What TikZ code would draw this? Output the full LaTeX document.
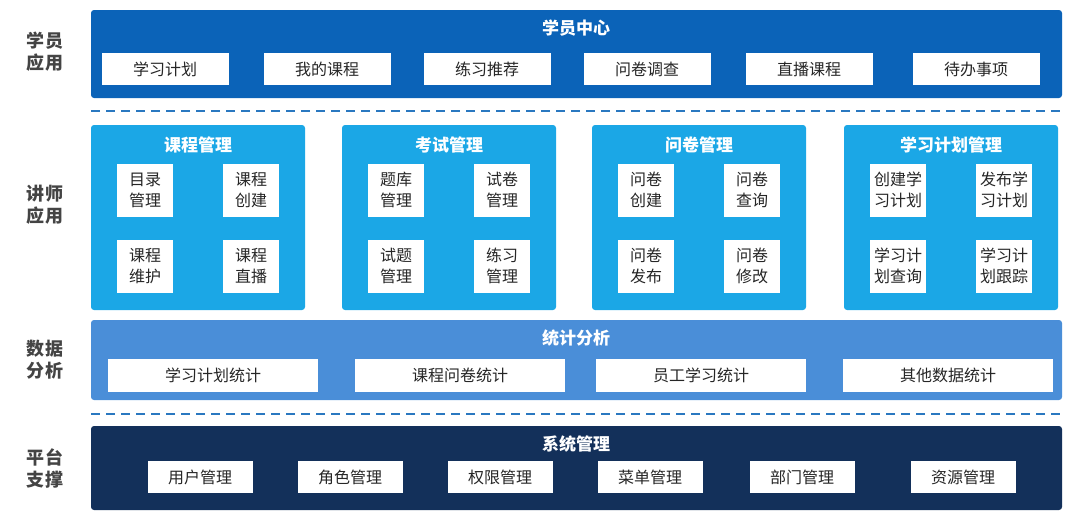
\documentclass[tikz,border=0pt]{standalone}
\usepackage{fontspec}
\setmainfont{Noto Sans CJK SC}
\definecolor{topc}{HTML}{0B63B8}
\definecolor{midc}{HTML}{1BA7E6}
\definecolor{statc}{HTML}{4A8ED8}
\definecolor{botc}{HTML}{13305A}
\definecolor{dashc}{HTML}{2A78C0}
\definecolor{lab}{HTML}{444444}
\tikzset{
 band/.style={rounded corners=3pt,inner sep=0pt},
 wbox/.style={fill=white,inner sep=0pt,font=\fontsize{16}{18}\selectfont,text=black!85},
 sbox/.style={wbox,align=center,minimum width=56pt,minimum height=53pt,font=\fontsize{16}{21}\selectfont},
 title/.style={text=white,font=\fontsize{17}{18}\selectfont\bfseries},
 lbl/.style={text=lab,font=\fontsize{18}{22}\selectfont\bfseries,align=center},
 sep/.style={dashc,line width=2pt,dash pattern=on 9pt off 6pt}
}
\begin{document}
\begin{tikzpicture}[x=1pt,y=-1pt]
\useasboundingbox (0,0) rectangle (1070,522);
% labels
\node[lbl] (l1) at (45,52) {学员\\应用};
\node[lbl] (l2) at (45,205) {讲师\\应用};
\node[lbl] (l3) at (45,360) {数据\\分析};
\node[lbl] (l4) at (45,468) {平台\\支撑};
% top band
\fill[topc,band] (91,10) rectangle (1062,98);
\node[title] (t1) at (576,28) {学员中心};
\foreach \x/\t [count=\i] in {165/学习计划,327/我的课程,487/练习推荐,647/问卷调查,809/直播课程,976/待办事项}
  \node[wbox,minimum width=127pt,minimum height=32pt] (s\i) at (\x,69) {\t};
\draw[sep] (91,111) -- (1062,111);
% teacher panels
\foreach \x/\t/\a/\b/\c/\d [count=\i] in {
 198/课程管理/目录\\管理/课程\\创建/课程\\维护/课程\\直播,
 449/考试管理/题库\\管理/试卷\\管理/试题\\管理/练习\\管理,
 699/问卷管理/问卷\\创建/问卷\\查询/问卷\\发布/问卷\\修改,
 951/学习计划管理/创建学\\习计划/发布学\\习计划/学习计\\划查询/学习计\\划跟踪}{
  \fill[midc,band] (\x-107,125) rectangle (\x+107,310);
  \node[title] (p\i) at (\x,145) {\t};
  \node[sbox] (pa\i) at (\x-53,190) {\a};
  \node[sbox] (pb\i) at (\x+53,190) {\b};
  \node[sbox] (pc\i) at (\x-53,266) {\c};
  \node[sbox] (pd\i) at (\x+53,266) {\d};
}
% stats band
\fill[statc,band] (91,320) rectangle (1062,400);
\node[title] (t3) at (576,338) {统计分析};
\foreach \x/\t [count=\i] in {213/学习计划统计,460/课程问卷统计,701/员工学习统计,948/其他数据统计}
  \node[wbox,minimum width=210pt,minimum height=33pt] (d\i) at (\x,375) {\t};
\draw[sep] (91,414) -- (1062,414);
% bottom band
\fill[botc,band] (91,426) rectangle (1062,510);
\node[title] (t4) at (576,444) {系统管理};
\foreach \x/\t [count=\i] in {200/用户管理,350/角色管理,500/权限管理,650/菜单管理,802/部门管理,963/资源管理}
  \node[wbox,minimum width=105pt,minimum height=32pt] (b\i) at (\x,477) {\t};
\end{tikzpicture}
\end{document}
